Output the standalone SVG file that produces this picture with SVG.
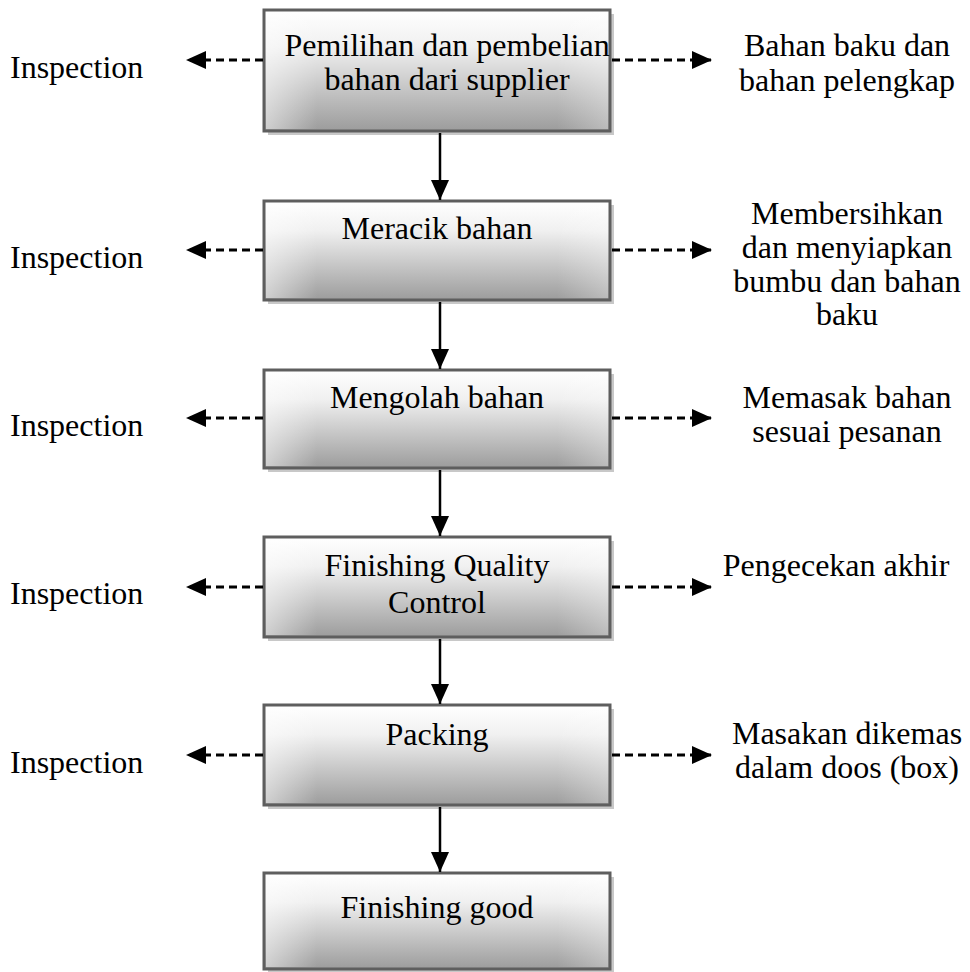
<svg xmlns="http://www.w3.org/2000/svg" width="970" height="972" viewBox="0 0 970 972">
<defs>
<linearGradient id="g" x1="0" y1="0" x2="0" y2="1">
<stop offset="0" stop-color="#ffffff"/>
<stop offset="0.3" stop-color="#f0f0f0"/>
<stop offset="1" stop-color="#9c9c9c"/>
</linearGradient>
<linearGradient id="h" x1="0" y1="0" x2="1" y2="0">
<stop offset="0" stop-color="#ffffff" stop-opacity="0.5"/>
<stop offset="0.15" stop-color="#ffffff" stop-opacity="0"/>
<stop offset="0.85" stop-color="#ffffff" stop-opacity="0"/>
<stop offset="1" stop-color="#ffffff" stop-opacity="0.3"/>
</linearGradient>
<marker id="a" viewBox="0 0 10 10" refX="10" refY="5" markerWidth="20" markerHeight="18" markerUnits="userSpaceOnUse" orient="auto" preserveAspectRatio="none">
<path d="M0,0 L10,5 L0,10 z" fill="#000"/>
</marker>
</defs>
<style>
.box{fill:url(#g);stroke:#5e5e5e;stroke-width:3}
.hl{fill:url(#h);stroke:none}
.sh{fill:#c8c8c8;stroke:none}
.solid{stroke:#000;stroke-width:2.5;fill:none;marker-end:url(#a)}
.dash{stroke:#000;stroke-width:3;stroke-dasharray:8,5;fill:none;marker-end:url(#a)}
</style>
<rect width="970" height="972" fill="#fff"/>
<g id="n1">
<rect class="sh" x="268" y="14" width="346" height="121"/>
<rect class="box" x="264" y="10" width="346" height="121"/>
<rect class="hl" x="266" y="12" width="342" height="117"/>
<text x="447" y="56" font-family="Liberation Serif" font-size="32" text-anchor="middle">Pemilihan dan pembelian</text>
<text x="447" y="90" font-family="Liberation Serif" font-size="32" text-anchor="middle">bahan dari supplier</text>
</g>
<g id="n2">
<rect class="sh" x="268" y="205" width="346" height="99"/>
<rect class="box" x="264" y="201" width="346" height="99"/>
<rect class="hl" x="266" y="203" width="342" height="95"/>
<text x="437" y="239" font-family="Liberation Serif" font-size="32" text-anchor="middle">Meracik bahan</text>
</g>
<g id="n3">
<rect class="sh" x="268" y="374" width="346" height="98"/>
<rect class="box" x="264" y="370" width="346" height="98"/>
<rect class="hl" x="266" y="372" width="342" height="94"/>
<text x="437" y="408" font-family="Liberation Serif" font-size="32" text-anchor="middle">Mengolah bahan</text>
</g>
<g id="n4">
<rect class="sh" x="268" y="541" width="346" height="100"/>
<rect class="box" x="264" y="537" width="346" height="100"/>
<rect class="hl" x="266" y="539" width="342" height="96"/>
<text x="437" y="576" font-family="Liberation Serif" font-size="32" text-anchor="middle">Finishing Quality</text>
<text x="437" y="613" font-family="Liberation Serif" font-size="32" text-anchor="middle">Control</text>
</g>
<g id="n5">
<rect class="sh" x="268" y="709" width="346" height="100"/>
<rect class="box" x="264" y="705" width="346" height="100"/>
<rect class="hl" x="266" y="707" width="342" height="96"/>
<text x="437" y="745" font-family="Liberation Serif" font-size="32" text-anchor="middle">Packing</text>
</g>
<g id="n6">
<rect class="sh" x="268" y="877" width="346" height="95"/>
<rect class="box" x="264" y="873" width="346" height="96"/>
<rect class="hl" x="266" y="875" width="342" height="92"/>
<text x="437" y="918" font-family="Liberation Serif" font-size="32" text-anchor="middle">Finishing good</text>
</g>

<g id="left-labels">
<text x="10" y="78" font-family="Liberation Serif" font-size="32">Inspection</text>
<text x="10" y="268" font-family="Liberation Serif" font-size="32">Inspection</text>
<text x="10" y="436" font-family="Liberation Serif" font-size="32">Inspection</text>
<text x="10" y="604" font-family="Liberation Serif" font-size="32">Inspection</text>
<text x="10" y="773" font-family="Liberation Serif" font-size="32">Inspection</text>
</g>

<g id="right-labels">
<text x="847" y="56" font-family="Liberation Serif" font-size="32" text-anchor="middle">Bahan baku dan</text>
<text x="847" y="91" font-family="Liberation Serif" font-size="32" text-anchor="middle">bahan pelengkap</text>
<text x="847" y="224" font-family="Liberation Serif" font-size="32" text-anchor="middle">Membersihkan</text>
<text x="847" y="258" font-family="Liberation Serif" font-size="32" text-anchor="middle">dan menyiapkan</text>
<text x="847" y="292" font-family="Liberation Serif" font-size="32" text-anchor="middle">bumbu dan bahan</text>
<text x="847" y="325" font-family="Liberation Serif" font-size="32" text-anchor="middle">baku</text>
<text x="847" y="408" font-family="Liberation Serif" font-size="32" text-anchor="middle">Memasak bahan</text>
<text x="847" y="442" font-family="Liberation Serif" font-size="32" text-anchor="middle">sesuai pesanan</text>
<text x="836" y="576" font-family="Liberation Serif" font-size="32" text-anchor="middle">Pengecekan akhir</text>
<text x="847" y="744" font-family="Liberation Serif" font-size="32" text-anchor="middle">Masakan dikemas</text>
<text x="847" y="778" font-family="Liberation Serif" font-size="32" text-anchor="middle">dalam doos (box)</text>
</g>

<g id="connectors">
<path class="solid" d="M440,133 L440,200"/>
<path class="solid" d="M440,302 L440,369"/>
<path class="solid" d="M440,470 L440,536"/>
<path class="solid" d="M440,639 L440,704"/>
<path class="solid" d="M440,807 L440,872"/>

<path class="dash" d="M263,60 L186,60"/>
<path class="dash" d="M263,250 L186,250"/>
<path class="dash" d="M263,418 L186,418"/>
<path class="dash" d="M263,587 L186,587"/>
<path class="dash" d="M263,755 L186,755"/>

<path class="dash" d="M612,60 L712,60"/>
<path class="dash" d="M612,250 L712,250"/>
<path class="dash" d="M612,418 L712,418"/>
<path class="dash" d="M612,587 L712,587"/>
<path class="dash" d="M612,755 L712,755"/>
</g>
</svg>
